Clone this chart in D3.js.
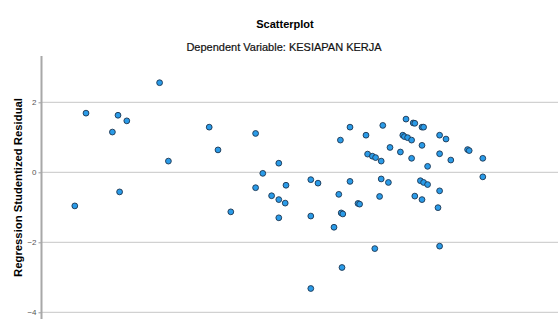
<!DOCTYPE html>
<html>
<head>
<meta charset="utf-8">
<script src="https://cdn.jsdelivr.net/npm/d3@7"></script>
<style>
  body { margin: 0; background: #fff; }
  svg { display: block; font-family: "Liberation Sans", Arial, sans-serif; }
</style>
</head>
<body>
<svg></svg>
<script>
// standardized predicted value (x) and studentized residual (y)
const predicted = [-2.79, -2.65, -2.32, -2.25, -2.14, -2.23, -1.73, -1.62, -1.11, -1.00,
  -0.84, -0.53, -0.44, -0.53, -0.24, -0.15, -0.33, -0.24, -0.16, -0.24,
  0.16, 0.25, 0.16, 0.16, 0.55, 0.51, 0.65, 0.53, 0.65, 0.85,
  0.87, 0.93, 0.97, 1.04, 0.75, 0.77, 0.54, 0.56, 0.45, 1.02,
  0.96, 1.06, 1.15, 1.04, 1.13, 1.35, 1.44, 1.46, 1.55, 1.57,
  1.31, 1.33, 1.37, 1.42, 1.77, 1.85, 2.12, 2.14, 1.28, 1.55,
  1.42, 1.77, 1.91, 1.62, 2.31, 2.31, 1.53, 1.57, 1.62, 1.77,
  1.46, 1.55, 1.75, 1.77];
const residual = [-0.96, 1.69, 1.15, 1.63, 1.47, -0.56, 2.56, 0.32, 1.29, 0.64,
  -1.13, 1.11, -0.03, -0.44, 0.26, -0.37, -0.67, -0.78, -0.88, -1.30,
  -0.21, -0.31, -1.25, -3.32, -2.72, -0.63, -0.26, 0.92, 1.29, 1.06,
  0.52, 0.46, 0.42, 0.32, -0.89, -0.91, -1.16, -1.19, -1.57, -0.69,
  -2.18, 1.34, 0.71, -0.19, -0.29, 1.52, 1.41, 1.40, 1.29, 1.29,
  1.06, 1.02, 0.99, 0.92, 1.06, 0.95, 0.65, 0.62, 0.58, 0.77,
  0.40, 0.53, 0.35, 0.17, 0.40, -0.13, -0.24, -0.29, -0.35, -0.53,
  -0.68, -0.78, -1.01, -2.11];
const yTicks = [2, 0, -2, -4];

const title = "Scatterplot";
const subtitle = "Dependent Variable: KESIAPAN KERJA";
const yLabel = "Regression Studentized Residual";

const w = 558, h = 319;
const svg = d3.select("svg").attr("width", w).attr("height", h);

const x = d3.scaleLinear().domain([-3.2, 3.2]).range([42, 554]);
const y = d3.scaleLinear().domain([-4, 2]).range([312.3, 102.3]);

// titles
svg.append("text").attr("x", 285).attr("y", 28)
  .attr("text-anchor", "middle").attr("font-size", 11).attr("font-weight", "bold")
  .attr("fill", "#000").text(title);
svg.append("text").attr("x", 284).attr("y", 50.5)
  .attr("text-anchor", "middle").attr("font-size", 11)
  .attr("fill", "#111").attr("stroke", "#111").attr("stroke-width", 0.2)
  .text(subtitle);

// grid lines
svg.append("g").selectAll("line")
  .data(yTicks)
  .enter()
  .append("line")
  .attr("x1", 42).attr("x2", w)
  .attr("y1", d => y(d)).attr("y2", d => y(d))
  .attr("stroke", "#c6c6c6").attr("stroke-width", 1);

// y axis
const yAxis = d3.axisLeft(y).tickValues(yTicks).tickFormat(d3.format("d"))
  .tickSize(3).tickPadding(2);
const ga = svg.append("g").attr("transform", "translate(41.5,0)").call(yAxis);
ga.select(".domain").remove();
ga.selectAll(".tick line").attr("stroke", "#999");
ga.selectAll(".tick text").attr("font-size", 8).attr("fill", "#555")
  .attr("font-family", "Liberation Sans, Arial, sans-serif");
svg.append("line").attr("x1", 41.5).attr("x2", 41.5).attr("y1", 56).attr("y2", h)
  .attr("stroke", "#a8a8a8").attr("stroke-width", 2);

svg.append("text")
  .attr("transform", "translate(21.5,187.5) rotate(-90)")
  .attr("text-anchor", "middle").attr("font-size", 11.3).attr("font-weight", "bold")
  .attr("fill", "#000").text(yLabel);

// points
svg.append("g").selectAll("circle")
  .data(predicted.map((p, i) => [p, residual[i]]))
  .enter()
  .append("circle")
  .attr("cx", d => x(d[0]))
  .attr("cy", d => y(d[1]))
  .attr("r", 2.9)
  .attr("fill", "#2a9be8")
  .attr("stroke", "#1d3550")
  .attr("stroke-width", 0.9);
</script>
</body>
</html>
